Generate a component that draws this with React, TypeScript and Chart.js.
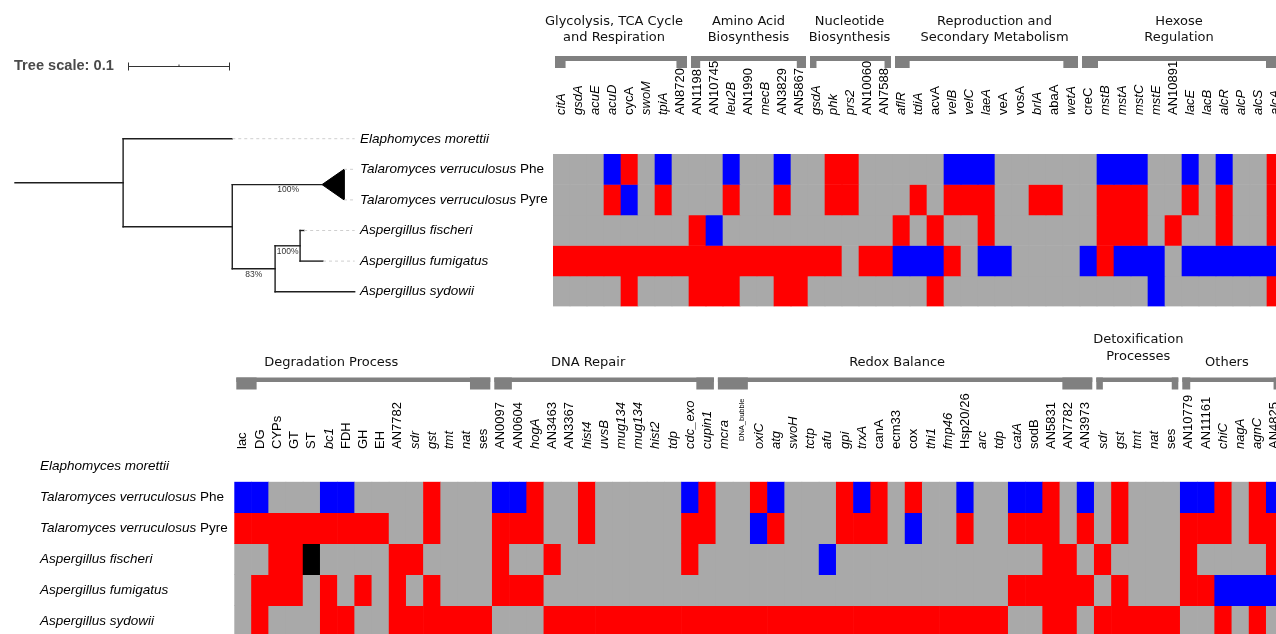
import React, { useEffect, useRef } from 'react';
import { Chart, registerables } from 'chart.js';

Chart.register(...registerables);

// ---------------- DATA ----------------
const SPECIES_NAME = [
  'Elaphomyces morettii',
  'Talaromyces verruculosus',
  'Talaromyces verruculosus',
  'Aspergillus fischeri',
  'Aspergillus fumigatus',
  'Aspergillus sydowii',
];
const SPECIES_STRAIN = ['', 'Phe', 'Pyre', '', '', ''];

// Cell codes: G = no change (grey), R = up (red), B = down (blue), K = black
const TOP_GENES = [
  'citA', 'gsdA', 'acuE', 'acuD', 'cycA', 'swoM', 'tpiA', 'AN8720',
  'AN1198', 'AN10745', 'leu2B', 'AN1990', 'mecB', 'AN3829', 'AN5867',
  'gsdA', 'phk', 'prs2', 'AN10060', 'AN7588',
  'aflR', 'tdiA', 'acvA', 'velB', 'velC', 'laeA', 'veA', 'vosA', 'brlA', 'abaA', 'wetA',
  'creC', 'mstB', 'mstA', 'mstC', 'mstE', 'AN10891', 'lacE', 'lacB', 'alcR', 'alcP', 'alcS', 'alcA',
];
const TOP_ITALIC = new Set([
  'citA', 'gsdA', 'acuE', 'acuD', 'swoM', 'tpiA', 'leu2B', 'mecB', 'phk', 'prs2',
  'aflR', 'tdiA', 'velB', 'velC', 'laeA', 'brlA', 'wetA',
  'mstB', 'mstA', 'mstC', 'mstE', 'lacE', 'lacB', 'alcR', 'alcP', 'alcS', 'alcA',
]);
const TOP_PHE = 'GGGBRGBGGGBGGBGGRRGG' + 'GGGBBBGGGGG' + 'GBBBGGBGBGGR';
const TOP_PYRE = 'GGGRBGRGGGRGGRGGRRGG' + 'GRGRRRGGRRG' + 'GRRRGGRGRGGR';
const TOP_FISCHERI = 'GGGGGGGGRBGGGGGGGGGG' + 'RGRGGRGGGGG' + 'GRRRGRGGRGGR';
const TOP_FUMIGATUS = 'RRRRRRRRRRRRRRRRRGRR' + 'BBBRGBBGGGG' + 'BRBBBGBBBBBB';
const TOP_SYDOWII = 'GGGGRGGGRRRGGRRGGGGG' + 'GGRGGGGGGGG' + 'GGGGBGGGGGGR';
const TOP_GROUP_NAMES = [
  ['Glycolysis, TCA Cycle', 'and Respiration'],
  ['Amino Acid', 'Biosynthesis'],
  ['Nucleotide', 'Biosynthesis'],
  ['Reproduction and', 'Secondary Metabolism'],
  ['Hexose', 'Regulation'],
];
const TOP_GROUP_START = [0, 8, 15, 20, 31];
const TOP_GROUP_END = [7, 14, 19, 30, 42];

const BOTTOM_GENES = [
  'lac', 'DG', 'CYPs', 'GT', 'ST', 'bc1', 'FDH', 'GH', 'EH', 'AN7782', 'sdr', 'gst', 'tmt', 'nat', 'ses',
  'AN0097', 'AN0604', 'hogA', 'AN3463', 'AN3367', 'hist4', 'uvsB', 'mug134', 'mug134', 'hist2', 'tdp', 'cdc_exo', 'cupin1',
  'mcra', 'DNA_bubble', 'oxiC', 'atg', 'swoH', 'tctp', 'afu', 'gpi', 'trxA', 'canA', 'ecm33', 'cox', 'thi1', 'fmp46',
  'Hsp20/26', 'arc', 'tdp', 'catA', 'sodB', 'AN5831', 'AN7782', 'AN3973',
  'sdr', 'gst', 'tmt', 'nat', 'ses',
  'AN10779', 'AN11161', 'chiC', 'nagA', 'agnC', 'AN4825',
];
const BOTTOM_ITALIC = new Set([
  'bc1', 'sdr', 'gst', 'tmt', 'nat', 'hogA', 'hist4', 'uvsB', 'mug134', 'hist2', 'tdp', 'cdc_exo', 'cupin1',
  'mcra', 'oxiC', 'atg', 'swoH', 'tctp', 'afu', 'gpi', 'trxA', 'thi1', 'fmp46', 'arc', 'catA',
  'chiC', 'nagA', 'agnC',
]);
const BOT_PHE = 'BBGGGBBGGGGRGGG' + 'BBRGGRGGGGGBR' + 'GGRBGGGRBRGRGGBGGBBRGB' + 'GRGGG' + 'BBRGRB';
const BOT_PYRE = 'RRRRRRRRRGGRGGG' + 'RRRGGRGGGGGRR' + 'GGBRGGGRRRGBGGRGGRRRGR' + 'GRGGG' + 'RRRGRR';
const BOT_FISCHERI = 'GGRRKGGGGRRGGGG' + 'RGGRGGGGGGGRG' + 'GGGGGGBGGGGGGGGGGGGRRG' + 'RGGGG' + 'RGGGGR';
const BOT_FUMIGATUS = 'GRRRGRGRGRGRGGG' + 'RRRGGGGGGGGGG' + 'GGGGGGGGGGGGGGGGGRRRRR' + 'GRGGG' + 'RRBBBB';
const BOT_SYDOWII = 'GRGGGRRGGRRRRRR' + 'GGGRRRRRRRRRR' + 'RRRRRRRRRRRRRRRRRGGRRG' + 'RRRRR' + 'GGRGRG';
const BOTTOM_GROUP_NAMES = [
  ['Degradation Process'],
  ['DNA Repair'],
  ['Redox Balance'],
  ['Detoxification', 'Processes'],
  ['Others'],
];
const BOTTOM_GROUP_START = [0, 15, 28, 50, 55];
const BOTTOM_GROUP_END = [14, 27, 49, 54, 60];

// Phylogeny (branch lengths, substitutions/site); leaf = row index
type TNode = { len: number; leaf?: number; clade?: [number, number]; depth?: number; support?: string; children?: TNode[] };
const TREE: TNode = {
  len: 0.106,
  children: [
    { leaf: 0, len: 0.107 },
    {
      len: 0.107,
      children: [
        { clade: [1, 2], len: 0.088, depth: 0.0216, support: '100%' },
        {
          len: 0.042, support: '83%',
          children: [
            { len: 0.0245, support: '100%', children: [{ leaf: 3, len: 0.004 }, { leaf: 4, len: 0.0225 }] },
            { leaf: 5, len: 0.078 },
          ],
        },
      ],
    },
  ],
};
const TREE_SCALE = 0.1;
const LABEL_ALIGN = 0.333;

// ---------------- STYLE / LAYOUT ----------------
const W = 1290;
const H = 640;
const CELL_COLORS: Record<string, string> = { G: '#a9a9a9', R: '#ff0000', B: '#0000ff', K: '#000000' };
const LABEL_FONT = '"Liberation Sans", Arial, sans-serif';
const GROUP_FONT = '"DejaVu Sans", Verdana, sans-serif';

const TREE_X0 = 15;
const TREE_PXU = 1020;
const TREE_Y0 = 138.7;
const TREE_RH = 30.6;

type HeatCfg = {
  genes: string[];
  italic: Set<string>;
  rows: string[];
  groupNames: string[][];
  groupStart: number[];
  groupEnd: number[];
  groupDx: number[];
  left: number;
  top: number;
  cellW: number;
  rowH: number;
  labelBase: number;
  barTop: number;
  barH: number;
  tabH: number;
  lineY1: number[];
  lineY2: number[];
  rowLabelX: number;
};

const TOP_CFG: HeatCfg = {
  genes: TOP_GENES,
  italic: TOP_ITALIC,
  rows: [TOP_PHE, TOP_PYRE, TOP_FISCHERI, TOP_FUMIGATUS, TOP_SYDOWII],
  groupNames: TOP_GROUP_NAMES,
  groupStart: TOP_GROUP_START,
  groupEnd: TOP_GROUP_END,
  groupDx: [-7, 0, -1, 8, -3],
  left: 553,
  top: 154,
  cellW: 17,
  rowH: 30.5,
  labelBase: 115,
  barTop: 56,
  barH: 5,
  tabH: 12,
  lineY1: [30],
  lineY2: [22, 38],
  rowLabelX: 360,
};

const BOT_CFG: HeatCfg = {
  genes: BOTTOM_GENES,
  italic: BOTTOM_ITALIC,
  rows: [BOT_PHE, BOT_PYRE, BOT_FISCHERI, BOT_FUMIGATUS, BOT_SYDOWII],
  groupNames: BOTTOM_GROUP_NAMES,
  groupStart: BOTTOM_GROUP_START,
  groupEnd: BOTTOM_GROUP_END,
  groupDx: [-32, -16, -8, 1, -5],
  left: 234.3,
  top: 481.7,
  cellW: 17.2,
  rowH: 31,
  labelBase: 449,
  barTop: 377.5,
  barH: 4.5,
  tabH: 12,
  lineY1: [363],
  lineY2: [340, 357],
  rowLabelX: 40,
};

function drawSpecies(ctx: CanvasRenderingContext2D, x: number, y: number, s: number) {
  ctx.font = `italic 13.5px ${LABEL_FONT}`;
  ctx.textAlign = 'left';
  ctx.textBaseline = 'middle';
  ctx.fillStyle = '#000';
  ctx.fillText(SPECIES_NAME[s], x, y);
  if (SPECIES_STRAIN[s]) {
    const w = ctx.measureText(SPECIES_NAME[s]).width;
    ctx.font = `13.5px ${LABEL_FONT}`;
    ctx.fillText(' ' + SPECIES_STRAIN[s], x + w, y);
  }
}

function heatPlugin(cfg: HeatCfg) {
  return {
    id: 'heatDecor',
    afterDraw(chart: any) {
      const ctx: CanvasRenderingContext2D = chart.ctx;
      const xs = chart.scales.x;
      const ys = chart.scales.y;
      const cw = xs.width / cfg.genes.length;
      ctx.save();
      // column labels
      cfg.genes.forEach((g, i) => {
        const x = xs.getPixelForValue(i);
        const small = g === 'DNA_bubble';
        ctx.save();
        ctx.translate(x, cfg.labelBase - (small ? 8 : 0));
        ctx.rotate(-Math.PI / 2);
        ctx.font = `${cfg.italic.has(g) ? 'italic ' : ''}${small ? 7.5 : 13}px ${LABEL_FONT}`;
        ctx.fillStyle = '#000';
        ctx.textAlign = 'left';
        ctx.textBaseline = 'middle';
        ctx.fillText(g, 0, 0);
        ctx.restore();
      });
      // group brackets + names
      cfg.groupStart.forEach((s, k) => {
        const e = cfg.groupEnd[k];
        const left = xs.getPixelForValue(s) - cw / 2 + 2;
        const right = xs.getPixelForValue(e) + cw / 2 - 2;
        const w = right - left;
        const tab = w * 0.08;
        ctx.fillStyle = '#808080';
        ctx.fillRect(left, cfg.barTop, w, cfg.barH);
        ctx.fillRect(left, cfg.barTop, tab, cfg.tabH);
        ctx.fillRect(right - tab, cfg.barTop, tab, cfg.tabH);
        const cx = (left + right) / 2 + cfg.groupDx[k];
        const lines = cfg.groupNames[k];
        const ly = lines.length === 1 ? cfg.lineY1 : cfg.lineY2;
        ctx.fillStyle = '#111';
        ctx.font = `13px ${GROUP_FONT}`;
        ctx.textAlign = 'center';
        ctx.textBaseline = 'middle';
        lines.forEach((ln, j) => ctx.fillText(ln, cx, ly[j]));
      });
      // row (species) labels
      SPECIES_NAME.forEach((_, s) => {
        drawSpecies(ctx, cfg.rowLabelX, ys.getPixelForValue(s - 0.5), s);
      });
      ctx.restore();
    },
  };
}

function makeHeat(canvas: HTMLCanvasElement, cfg: HeatCfg) {
  const n = cfg.genes.length;
  const datasets = cfg.rows.map((row, r) => ({
    label: SPECIES_NAME[r + 1] + ' ' + SPECIES_STRAIN[r + 1],
    data: row.split('').map(() => 1),
    backgroundColor: row.split('').map((c) => CELL_COLORS[c]),
    borderWidth: 0,
    barPercentage: 1,
    categoryPercentage: 1,
  }));
  return new Chart(canvas, {
    type: 'bar',
    data: { labels: cfg.genes, datasets },
    options: {
      responsive: false,
      animation: false,
      events: [],
      layout: {
        padding: {
          left: cfg.left,
          top: cfg.top,
          right: W - cfg.left - cfg.cellW * n,
          bottom: H - cfg.top - cfg.rowH * cfg.rows.length,
        },
      },
      scales: {
        x: { stacked: true, display: false },
        y: { stacked: true, display: false, reverse: true, min: 0, max: cfg.rows.length },
      },
      plugins: { legend: { display: false }, tooltip: { enabled: false } },
    },
    plugins: [heatPlugin(cfg)],
  } as any);
}

function makeTree(canvas: HTMLCanvasElement) {
  const segs: { x: number; y: number }[][] = [];
  const guides: { x: number; y: number }[][] = [];
  const tris: { x: number; y: number }[][] = [];
  const supports: { x: number; y: number; text: string }[] = [];
  const walk = (nd: TNode, x0: number): number => {
    const x1 = x0 + nd.len;
    let y: number;
    if (nd.leaf !== undefined) {
      y = nd.leaf;
      if (x1 < LABEL_ALIGN - 1e-4) guides.push([{ x: x1, y }, { x: LABEL_ALIGN, y }]);
    } else if (nd.clade) {
      const [a, b] = nd.clade;
      y = (a + b) / 2;
      const xb = x1 + (nd.depth || 0);
      tris.push([{ x: x1, y }, { x: xb, y: a }, { x: xb, y: b }, { x: x1, y }]);
      [a, b].forEach((r) => guides.push([{ x: xb, y: r }, { x: LABEL_ALIGN, y: r }]));
    } else {
      const ys = (nd.children || []).map((c) => walk(c, x1));
      const lo = Math.min(...ys);
      const hi = Math.max(...ys);
      y = (lo + hi) / 2;
      segs.push([{ x: x1, y: lo }, { x: x1, y: hi }]);
    }
    segs.push([{ x: x0, y }, { x: x1, y }]);
    if (nd.support) supports.push({ x: (x0 + x1 + (nd.depth || 0)) / 2, y, text: nd.support });
    return y;
  };
  walk(TREE, 0);

  const datasets: any[] = [
    ...guides.map((g) => ({
      data: g, showLine: true, borderColor: '#cfcfcf', borderWidth: 1, borderDash: [3, 3], pointRadius: 0,
    })),
    ...segs.map((s) => ({
      data: s, showLine: true, borderColor: '#1e1e1e', borderWidth: 1.4, borderCapStyle: 'square', pointRadius: 0,
    })),
    ...tris.map((t) => ({
      data: t, showLine: true, borderColor: '#000', backgroundColor: '#000', borderWidth: 1, fill: 'shape', pointRadius: 0,
    })),
  ];

  const treePlugin = {
    id: 'treeDecor',
    afterDraw(chart: any) {
      const ctx: CanvasRenderingContext2D = chart.ctx;
      const xs = chart.scales.x;
      const ys = chart.scales.y;
      ctx.save();
      // bootstrap supports
      ctx.font = `8.5px ${LABEL_FONT}`;
      ctx.fillStyle = '#333';
      ctx.textAlign = 'center';
      ctx.textBaseline = 'middle';
      supports.forEach((s) => ctx.fillText(s.text, xs.getPixelForValue(s.x), ys.getPixelForValue(s.y) + 5.5));
      // tree scale
      const sy = 66;
      const sx0 = 128;
      const sLen = xs.getPixelForValue(TREE_SCALE) - xs.getPixelForValue(0);
      ctx.font = `bold 14.6px ${LABEL_FONT}`;
      ctx.fillStyle = '#4a4a4a';
      ctx.textAlign = 'left';
      ctx.fillText('Tree scale: ' + TREE_SCALE, 14, sy);
      ctx.strokeStyle = '#333';
      ctx.lineWidth = 1;
      ctx.beginPath();
      ctx.moveTo(sx0, sy + 0.5);
      ctx.lineTo(sx0 + sLen, sy + 0.5);
      ctx.moveTo(sx0 + 0.5, sy - 3.5);
      ctx.lineTo(sx0 + 0.5, sy + 4.5);
      ctx.moveTo(sx0 + sLen - 0.5, sy - 3.5);
      ctx.lineTo(sx0 + sLen - 0.5, sy + 4.5);
      ctx.moveTo(sx0 + sLen / 2, sy - 1.5);
      ctx.lineTo(sx0 + sLen / 2, sy + 0.5);
      ctx.stroke();
      ctx.restore();
    },
  };

  return new Chart(canvas, {
    type: 'scatter',
    data: { datasets },
    options: {
      responsive: false,
      animation: false,
      events: [],
      layout: { padding: 0 },
      scales: {
        x: { type: 'linear', display: false, min: -TREE_X0 / TREE_PXU, max: (W - TREE_X0) / TREE_PXU },
        y: { type: 'linear', display: false, reverse: true, min: -TREE_Y0 / TREE_RH, max: (H - TREE_Y0) / TREE_RH },
      },
      plugins: { legend: { display: false }, tooltip: { enabled: false } },
    },
    plugins: [treePlugin],
  } as any);
}

export default function App() {
  const treeRef = useRef<HTMLCanvasElement>(null);
  const topRef = useRef<HTMLCanvasElement>(null);
  const botRef = useRef<HTMLCanvasElement>(null);
  useEffect(() => {
    const charts: Chart[] = [];
    if (treeRef.current) charts.push(makeTree(treeRef.current));
    if (topRef.current) charts.push(makeHeat(topRef.current, TOP_CFG));
    if (botRef.current) charts.push(makeHeat(botRef.current, BOT_CFG));
    return () => charts.forEach((c) => c.destroy());
  }, []);
  const cs: React.CSSProperties = { position: 'absolute', left: 0, top: 0, width: W, height: H };
  return (
    <div style={{ position: 'fixed', left: 0, top: 0, width: 1276, height: 634, overflow: 'hidden', background: '#fff' }}>
      <canvas ref={treeRef} width={W} height={H} style={cs} />
      <canvas ref={topRef} width={W} height={H} style={cs} />
      <canvas ref={botRef} width={W} height={H} style={cs} />
    </div>
  );
}
